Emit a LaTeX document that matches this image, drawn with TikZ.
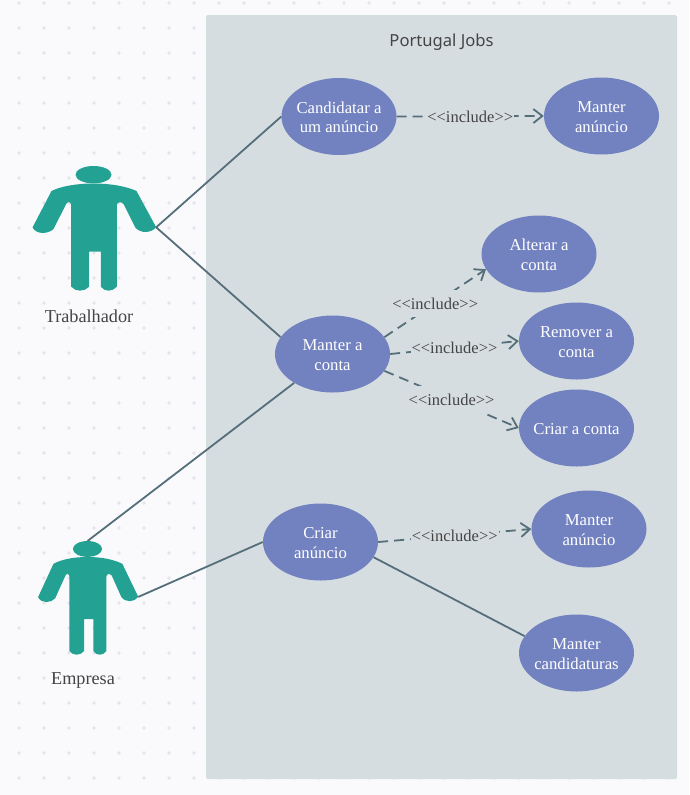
\documentclass[tikz,border=0pt]{standalone}
\usepackage{fontspec}
\setmainfont{Liberation Serif}
\newfontfamily\titlefont{Noto Sans}
\usetikzlibrary{shapes.geometric,arrows.meta}
\definecolor{pagecol}{RGB}{250,250,253}
\definecolor{dotcol}{RGB}{228,228,234}
\definecolor{panelcol}{RGB}{214,221,224}
\definecolor{usecol}{RGB}{114,130,192}
\definecolor{actorcol}{RGB}{35,162,148}
\definecolor{linecol}{RGB}{84,110,122}
\definecolor{textcol}{RGB}{68,68,68}
\newcommand{\incltext}{<\kern0pt<include>\kern0pt>}
\tikzset{
  usecase/.style={ellipse, fill=usecol, text=white, align=center, minimum width=115pt, minimum height=77pt, inner sep=-6pt, text height=#1, font=\fontsize{16.7}{19.5}\selectfont},
  usecase/.default=33pt,
  assoc/.style={draw=linecol, line width=1.8pt},
  incl/.style={draw=linecol, line width=1.8pt, dash pattern=on 10pt off 6pt, -{Straight Barb[length=9pt,width=14pt]}},
  incllabel/.style={fill=panelcol, text=textcol, inner xsep=1pt, inner ysep=0pt, minimum height=27pt, text height=13pt, font=\fontsize{16.5}{18}\selectfont},
  actorlabel/.style={text=textcol, font=\fontsize{18.2}{20}\selectfont},
  person/.pic={
    \fill [actorcol] (0,8.7) ellipse [x radius=18, y radius=8.7];
    \fill [actorcol] (0,17.5) .. controls (16,17.5) and (32,20) .. (43,25)
      -- (62.7,61.3) .. controls (58,67) and (47,68) .. (41.7,61.3)
      -- (30,38) .. controls (27,35) and (24,36) .. (23.3,39)
      -- (23.3,120.7) .. controls (19,126) and (11,126) .. (7.3,120.7)
      -- (7.3,85.7) -- (-4.3,85.7) -- (-4.3,120.7)
      .. controls (-9,126) and (-18,126) .. (-22.3,120.7)
      -- (-22.3,39) .. controls (-23,36) and (-25,35) .. (-27,37.5)
      -- (-40,63) .. controls (-45,68) and (-57,69) .. (-61,61.5)
      -- (-42,25) .. controls (-32,20) and (-16,17.5) .. (0,17.5) -- cycle;
    \coordinate (-top) at (0,0);
    \coordinate (-hand) at (62.7,61.3);
  }
}
\begin{document}
\begin{tikzpicture}[x=1pt, y=-1pt]
\useasboundingbox [fill=pagecol] (0,0) rectangle (689,795);
% dots of the page
\foreach \i in {19,44,...,669}
  \foreach \j in {3,28,...,778}
    \fill [dotcol] (\i,\j) circle [radius=1.8];
\fill [panelcol, rounded corners=2pt] (206,15) rectangle (677,779);
\node [text=textcol, font=\titlefont\fontsize{16.6}{18}\selectfont] (title) at (441.5,42) {Portugal Jobs};
% actors
\pic (trab) at (93.5,166) {person};
\pic [xscale=0.81, yscale=0.912] (emp) at (87.5,541) {person};
\node [actorlabel] (trablabel) at (89,316) {Trabalhador};
\node [actorlabel] (emplabel) at (83,680) {Empresa};
% use cases
\node [usecase] (candidatar) at (339,116.5) {Candidatar a\\ um anúncio};
\node [usecase] (anuncioa) at (601.5,116) {Manter\\ anúncio};
\node [usecase] (alterar) at (539,254) {Alterar a\\ conta};
\node [usecase] (remover) at (576.5,341) {Remover a\\ conta};
\node [usecase=14pt] (criarconta) at (576.5,428) {Criar a conta};
\node [usecase] (conta) at (332.5,354) {Manter a\\ conta};
\node [usecase] (criaranuncio) at (320.5,542) {Criar\\ anúncio};
\node [usecase] (anunciob) at (589,529) {Manter\\ anúncio};
\node [usecase] (candidaturas) at (576.5,653) {Manter\\ candidaturas};
% connectors
\draw [assoc] (trab-hand) -- (candidatar.west);
\draw [assoc] (trab-hand) -- (conta.162);
\draw [assoc] (emp-top) -- (conta.217);
\draw [assoc] (emp-hand) -- (criaranuncio.west);
\draw [assoc] (criaranuncio.-16) -- (candidaturas.162);
\draw [incl] (candidatar.east) -- node [incllabel] (la) {\incltext} (anuncioa.west);
\draw [incl] (conta.18) -- node [incllabel] (lb) {\incltext} (alterar.196);
\draw [incl] (conta.east) -- node [incllabel] (lc) {\incltext} (remover.west);
\draw [incl] (conta.-18) -- node [incllabel] (ld) {\incltext} (criarconta.west);
\draw [incl] (criaranuncio.east) -- node [incllabel] (le) {\incltext} (anunciob.west);
\end{tikzpicture}
\end{document}
